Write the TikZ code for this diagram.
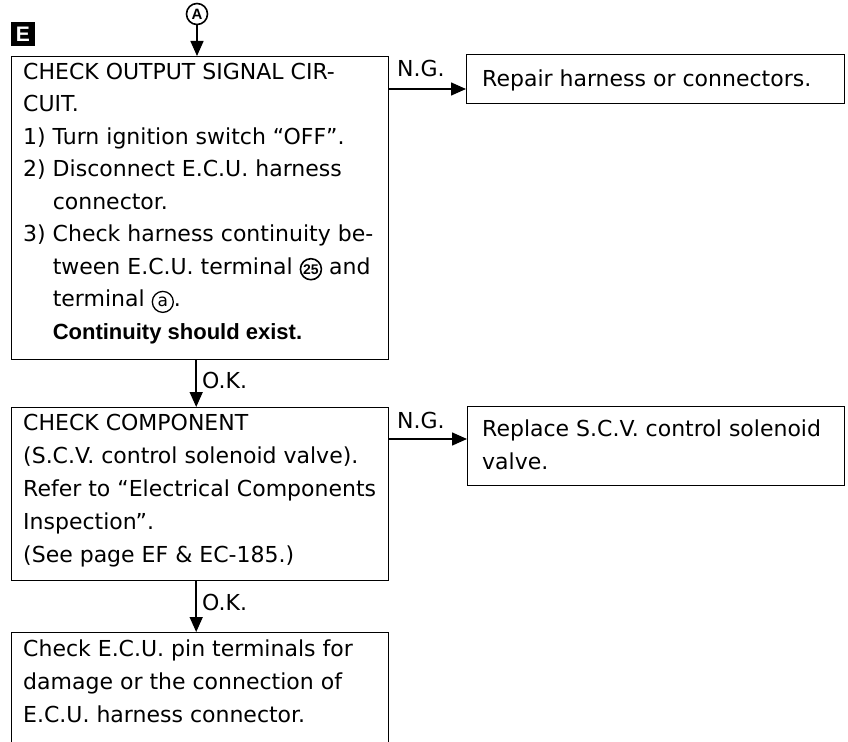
\documentclass[tikz,border=0pt]{standalone}
\usepackage{fontspec}
\setmainfont{DejaVu Sans}
\newfontfamily\boldf{Liberation Sans}
\usetikzlibrary{arrows.meta}
\newcommand\cnum[1]{\tikz[baseline=(cn.base)]\node[circle,draw,line width=1.6pt,inner sep=0pt,minimum size=21pt,font=\boldf\bfseries\fontsize{14}{14}\selectfont](cn){#1};}
\newcommand\cletter[1]{\tikz[baseline=(cl.base)]\node[circle,draw,line width=1.3pt,inner sep=0pt,minimum size=21pt,font=\fontsize{17}{17}\selectfont](cl){#1};}
\newcommand\ind{\hphantom{2) }}
\tikzset{
  frame/.style={draw,line width=1.4pt,rectangle,inner sep=0pt,anchor=north west},
  txt/.style={anchor=north west,inner sep=0pt,align=left,font=\fontsize{22}{33}\selectfont},
  lbl/.style={anchor=base west,inner sep=0pt,font=\fontsize{22}{33}\selectfont},
  arr/.style={line width=1.5pt,-{Triangle[length=15pt,width=13pt]}},
}
\begin{document}
\begin{tikzpicture}[x=1pt,y=-1pt]
\useasboundingbox (0,0) rectangle (848,741);
% badge and entry mark
\node[fill=black,minimum size=24pt,inner sep=0pt,text=white,font=\boldf\bfseries\fontsize{21}{21}\selectfont] (badge) at (23,34) {E};
\node[circle,draw,line width=1.6pt,minimum size=21pt,inner sep=0pt,font=\boldf\bfseries\fontsize{15}{15}\selectfont] (A) at (197,14) {A};
% frames
\node[frame,minimum width=377pt,minimum height=303pt] (b1) at (11,56) {};
\node[frame,minimum width=378pt,minimum height=49pt] (b2) at (466,54) {};
\node[frame,minimum width=377pt,minimum height=173pt] (b3) at (11,407) {};
\node[frame,minimum width=377pt,minimum height=79pt] (b4) at (467,406) {};
\node[frame,minimum width=377pt,minimum height=140pt] (b5) at (11,632) {};
% texts
\node[txt,font=\fontsize{22}{32.5}\selectfont] (t1) at (23,62.5) {CHECK OUTPUT SIGNAL CIR-\\
CUIT.\\
1) Turn ignition switch ``OFF''.\\
2) Disconnect E.C.U. harness\\
\ind connector.\\
3) Check harness continuity be-\\
\ind tween E.C.U. terminal \cnum{25} and\\
\ind terminal \cletter{a}.\\
\ind{\boldf\bfseries Continuity should exist.}};
\node[txt] (t2) at (482,69.5) {Repair harness or connectors.};
\node[txt] (t3) at (23,413.5) {CHECK COMPONENT\\
(S.C.V. control solenoid valve).\\
Refer to ``Electrical Components\\
Inspection''.\\
(See page EF \& EC-185.)};
\node[txt] (t4) at (482,419.5) {Replace S.C.V. control solenoid\\
valve.};
\node[txt] (t5) at (23,639.5) {Check E.C.U. pin terminals for\\
damage or the connection of\\
E.C.U. harness connector.};
% connectors
\coordinate (n1) at (388,89);
\coordinate (n2) at (388,439);
\draw[arr] (A.south) -- (A.south |- b1.north);
\draw[arr] (n1) -- (n1 -| b2.west);
\draw[arr] (n2) -- (n2 -| b4.west);
\draw[arr] ([xshift=-4pt]b1.south) -- ([xshift=-4pt]b3.north);
\draw[arr] ([xshift=-4pt]b3.south) -- ([xshift=-4pt]b5.north);
% labels
\node[lbl] (ng1) at (397,77) {N.G.};
\node[lbl] (ng2) at (397,428) {N.G.};
\node[lbl] (ok1) at (202,388) {O.K.};
\node[lbl] (ok2) at (202,610) {O.K.};
\end{tikzpicture}
\end{document}
